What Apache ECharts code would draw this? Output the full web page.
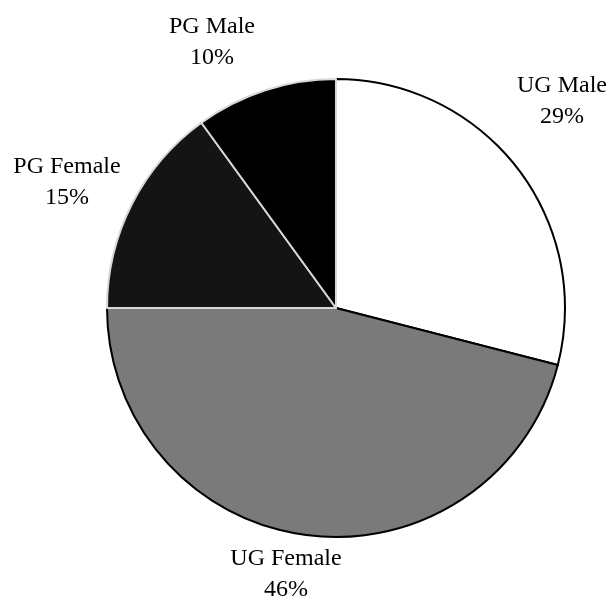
<!DOCTYPE html>
<html>
<head>
<meta charset="utf-8">
<script src="https://cdn.jsdelivr.net/npm/echarts@6/dist/echarts.min.js"></script>
<style>
  html, body { margin: 0; padding: 0; background: #fff; }
  #chart { width: 610px; height: 602px; }
</style>
</head>
<body>
<div id="chart"></div>
<script>
// slices, clockwise from 12 o'clock
var categories = ['UG Male', 'UG Female', 'PG Female', 'PG Male'];
var shares = [29, 46, 15, 10];

var fills = ['#ffffff', '#7a7a7a', '#141414', '#000000'];
var edges = ['#000000', '#000000', '#d8d8d8', '#d8d8d8'];
// label block centres (Excel placed these by hand-ish)
var labelSpots = [[562, 101], [286, 574], [67, 182], [212, 42]];

var chart = echarts.init(document.getElementById('chart'));

chart.setOption({
  animation: false,
  backgroundColor: '#fff',
  series: [{
    type: 'pie',
    center: [336, 308],
    radius: 229,
    startAngle: 90,
    clockwise: true,
    label: {
      show: true,
      position: 'outside',
      formatter: '{b}\n{d}%',
      fontFamily: 'Liberation Serif',
      fontSize: 24,
      lineHeight: 31,
      color: '#000',
      align: 'center',
      overflow: 'none',
      width: 200
    },
    labelLine: { show: false },
    labelLayout: function (p) {
      var s = labelSpots[p.dataIndex];
      return { x: s[0], y: s[1], align: 'center', verticalAlign: 'middle' };
    },
    emphasis: { disabled: true },
    data: categories.map(function (name, i) {
      return {
        name: name,
        value: shares[i],
        itemStyle: { color: fills[i], borderColor: edges[i], borderWidth: 2 }
      };
    })
  }]
});
</script>
</body>
</html>
